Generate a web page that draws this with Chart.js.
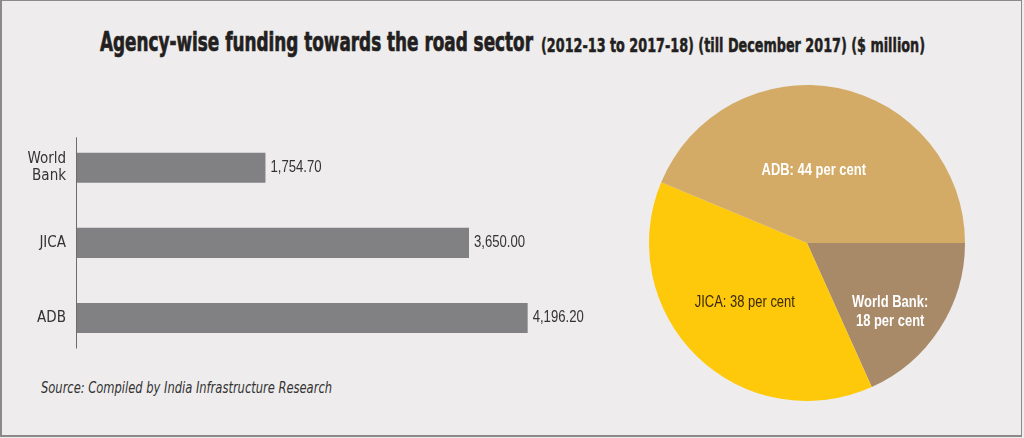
<!DOCTYPE html>
<html>
<head>
<meta charset="utf-8">
<script src="https://cdn.jsdelivr.net/npm/chart.js@4.4.1/dist/chart.umd.min.js"></script>
<style>
  html,body{margin:0;padding:0;}
  body{width:1024px;height:438px;background:#EEECED;position:relative;overflow:hidden;
       font-family:"DejaVu Sans Condensed","Liberation Sans",sans-serif;}
  #frame{position:absolute;left:0;top:0;width:1022px;height:437px;border:1px solid #8a8a8a;border-width:1px 1px 2px 2px;box-sizing:border-box;}
  .tpart{position:absolute;white-space:nowrap;color:#231F20;font-weight:bold;transform-origin:0 0;-webkit-text-stroke:0.7px #231F20;}
  #t1{left:100px;top:27px;font-size:26px;}
  #t2{left:541px;top:33px;font-size:20px;-webkit-text-stroke:0.5px #231F20;}
  #src{position:absolute;left:41px;top:379px;font-size:15px;font-style:italic;color:#333;white-space:nowrap;transform-origin:0 0;}
  #barWrap{position:absolute;left:0;top:111px;width:620px;height:272px;}
  #pieWrap{position:absolute;left:649px;top:85px;width:316px;height:316px;}
</style>
</head>
<body>
<div id="frame"></div>
<div id="t1" class="tpart">Agency-wise funding towards the road sector</div>
<div id="t2" class="tpart">(2012-13 to 2017-18) (till December 2017) ($ million)</div>
<div id="src">Source: Compiled by India Infrastructure Research</div>
<div id="barWrap"><canvas id="bar"></canvas></div>
<div id="pieWrap"><canvas id="pie"></canvas></div>
<script>
const categories = ['World Bank', 'JICA', 'ADB'];
const categoryTickLabels = [['World', 'Bank'], 'JICA', 'ADB'];
const fundingValues = [1754.70, 3650.00, 4196.20];
const sharePercent = [18, 38, 44];
const pieLabelLines = [['World Bank:', '18 per cent'], ['JICA: 38 per cent'], ['ADB: 44 per cent']];

// fit title parts to the reference widths
function fit(id, target){
  const el = document.getElementById(id);
  const w = el.getBoundingClientRect().width;
  el.style.transform = 'scaleX(' + (target / w) + ')';
}
fit('t1', 433); fit('t2', 384); fit('src', 291);

const FONT = '"Liberation Sans",Arial,sans-serif';
const NARROW = 0.82;

const barValuePlugin = {
  id: 'barValues',
  afterDatasetsDraw(chart){
    const ctx = chart.ctx;
    const meta = chart.getDatasetMeta(0);
    ctx.save();
    ctx.font = '16px ' + FONT;
    ctx.fillStyle = '#333333';
    ctx.textBaseline = 'middle';
    ctx.textAlign = 'left';
    meta.data.forEach((bar, i) => {
      const v = fundingValues[i].toLocaleString('en-US', {minimumFractionDigits: 2, maximumFractionDigits: 2});
      ctx.save();
      ctx.translate(bar.x + 5, bar.y);
      ctx.scale(NARROW, 1);
      ctx.fillText(v, 0, 0);
      ctx.restore();
    });
    // vertical axis line
    const x0 = chart.scales.x.getPixelForValue(0);
    ctx.strokeStyle = '#6d6d6d';
    ctx.lineWidth = 1;
    ctx.beginPath();
    ctx.moveTo(x0 - 0.5, chart.chartArea.top + 7);
    ctx.lineTo(x0 - 0.5, chart.chartArea.bottom - 7);
    ctx.stroke();
    ctx.restore();
  }
};

new Chart(document.getElementById('bar'), {
  type: 'bar',
  data: {
    labels: categoryTickLabels,
    datasets: [{
      data: fundingValues,
      backgroundColor: '#818183',
      borderWidth: 0,
      barPercentage: 0.8,
      categoryPercentage: 0.5
    }]
  },
  options: {
    indexAxis: 'y',
    responsive: true,
    maintainAspectRatio: false,
    animation: false,
    layout: {padding: {top: 0, bottom: 0, right: 6, left: 0}},
    plugins: {legend: {display: false}, tooltip: {enabled: false}},
    scales: {
      x: {display: false, min: 0, max: 5000},
      y: {
        border: {display: false},
        grid: {display: false, drawTicks: false},
        ticks: {color: '#333333', font: {family: '"DejaVu Sans Condensed","Liberation Sans",sans-serif', size: 15, lineHeight: 1.1}, padding: 11},
        afterFit(scale){ scale.width = 77; }
      }
    }
  },
  plugins: [barValuePlugin]
});

const pieLabelRadius = [0.686, 0.545, 0.46];
const pieLabelShiftDeg = [7, 2, -6];
const pieLabelColor = ['#FFFFFF', '#3A2A05', '#FFFFFF'];
const pieLabelWeight = ['bold', 'normal', 'bold'];
const pieLabelPlugin = {
  id: 'pieLabels',
  afterDatasetsDraw(chart){
    const ctx = chart.ctx;
    const meta = chart.getDatasetMeta(0);
    ctx.save();
    ctx.textAlign = 'center';
    ctx.textBaseline = 'middle';
    meta.data.forEach((arc, i) => {
      const mid = (arc.startAngle + arc.endAngle) / 2 + pieLabelShiftDeg[i] * Math.PI / 180;
      const r = arc.outerRadius * pieLabelRadius[i];
      const x = arc.x + Math.cos(mid) * r;
      const y = arc.y + Math.sin(mid) * r;
      ctx.font = pieLabelWeight[i] + ' 16px ' + FONT;
      ctx.fillStyle = pieLabelColor[i];
      const lines = pieLabelLines[i];
      const lh = 19;
      lines.forEach((ln, k) => {
        ctx.save();
        ctx.translate(x, y + (k - (lines.length - 1) / 2) * lh);
        ctx.scale(0.81, 1);
        ctx.fillText(ln, 0, 0);
        ctx.restore();
      });
    });
    ctx.restore();
  }
};

new Chart(document.getElementById('pie'), {
  type: 'pie',
  data: {
    labels: categories,
    datasets: [{
      data: fundingValues,
      backgroundColor: ['#A88A69', '#FEC80B', '#D3AB66'],
      borderWidth: 0
    }]
  },
  options: {
    responsive: true,
    maintainAspectRatio: false,
    animation: false,
    rotation: 90,
    layout: {padding: 0},
    plugins: {legend: {display: false}, tooltip: {enabled: false}}
  },
  plugins: [pieLabelPlugin]
});
</script>
</body>
</html>
